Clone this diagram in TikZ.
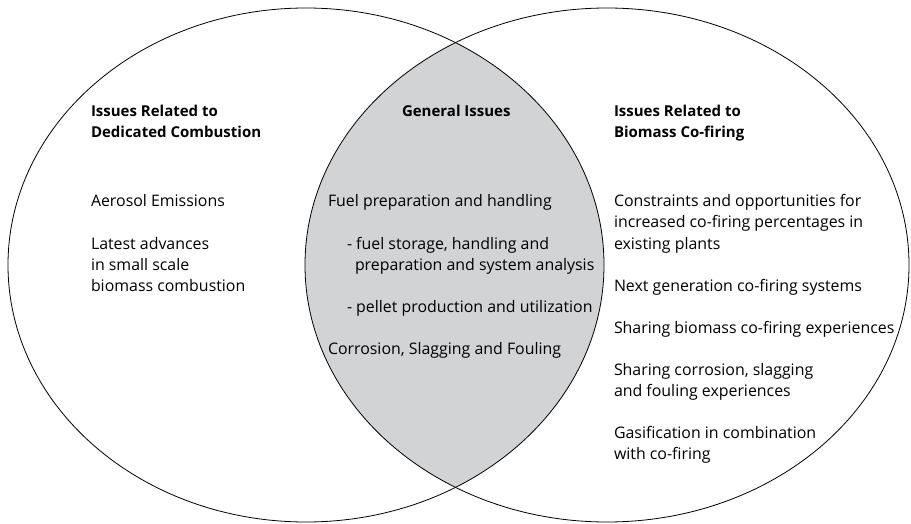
\documentclass[tikz,border=0pt]{standalone}
\usepackage{fontspec}
\setmainfont{Open Sans}
\definecolor{lensgrey}{RGB}{209,211,212}
\begin{document}
\begin{tikzpicture}[x=1pt,y=-1pt,
  txt/.style={anchor=base west,inner sep=0pt,outer sep=0pt,font=\fontsize{15.9}{21}\selectfont},
  hd/.style={txt,font=\fontsize{15}{21}\selectfont\bfseries},
  ring/.style={draw=black,line width=0.8pt}]
\useasboundingbox (0,0) rectangle (911,524);
% lens
\begin{scope}
  \clip (306,265) ellipse [x radius=298, y radius=257];
  \fill[lensgrey] (607,265) ellipse [x radius=302, y radius=257];
\end{scope}
\draw[ring] (306,265) ellipse [x radius=298, y radius=257];
\draw[ring] (607,265) ellipse [x radius=302, y radius=257];
% left column
\node[hd] (l1) at (91,117) {Issues Related to};
\node[hd] (l2) at (91,138) {Dedicated Combustion};
\node[txt] (l3) at (91,207) {Aerosol Emissions};
\node[txt] (l4) at (91,249) {Latest advances};
\node[txt] (l5) at (91,270) {in small scale};
\node[txt] (l6) at (91,291) {biomass combustion};
% centre column
\node[hd] (c1) at (402,117) {General Issues};
\node[txt] (c2) at (328,207) {Fuel preparation and handling};
\node[txt] (c3) at (347,249) {- fuel storage, handling and};
\node[txt] (c4) at (355,270) {preparation and system analysis};
\node[txt] (c5) at (347,312) {- pellet production and utilization};
\node[txt] (c6) at (328,354) {Corrosion, Slagging and Fouling};
% right column
\node[hd] (r1) at (614,117) {Issues Related to};
\node[hd] (r2) at (614,138) {Biomass Co-firing};
\node[txt] (r3) at (614,207) {Constraints and opportunities for};
\node[txt] (r4) at (614,228) {increased co-firing percentages in};
\node[txt] (r5) at (614,249) {existing plants};
\node[txt] (r6) at (614,291) {Next generation co-firing systems};
\node[txt] (r7) at (614,333) {Sharing biomass co-firing experiences};
\node[txt] (r8) at (614,375) {Sharing corrosion, slagging};
\node[txt] (r9) at (614,396) {and fouling experiences};
\node[txt] (r10) at (614,438) {Gasification in combination};
\node[txt] (r11) at (614,459) {with co-firing};
\end{tikzpicture}
\end{document}
